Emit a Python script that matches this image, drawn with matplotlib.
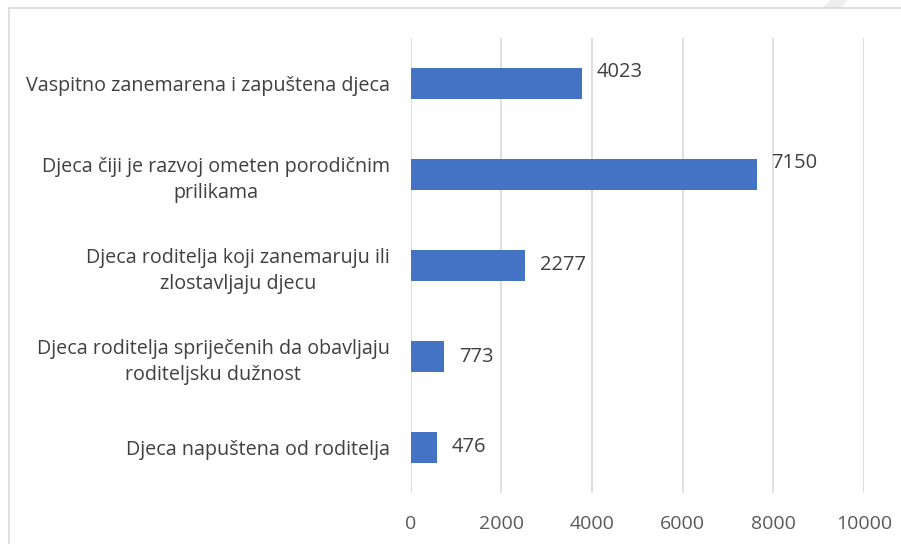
import matplotlib.pyplot as plt
from matplotlib.lines import Line2D
from matplotlib.patches import Polygon

# Data (bar lengths against the axis, printed labels as shown)
categories = [
    "Vaspitno zanemarena i zapuštena djeca",
    "Djeca čiji je razvoj ometen porodičnim\nprilikama",
    "Djeca roditelja koji zanemaruju ili\nzlostavljaju djecu",
    "Djeca roditelja spriječenih da obavljaju\nroditeljsku dužnost",
    "Djeca napuštena od roditelja",
]
bar_lengths = [3785, 7633, 2521, 742, 580]
value_labels = ["4023", "7150", "2277", "773", "476"]
label_raise = [8, 8, 0, 0, 0]  # points, first two labels sit higher

plt.rcParams['font.family'] = ['Open Sans', 'DejaVu Sans']

fig = plt.figure(figsize=(9.01, 5.44), dpi=100)
ax = fig.add_axes([410.7 / 901, 51 / 544, (864 - 410.7) / 901, 455 / 544])

ypos = list(range(len(categories)))
ax.barh(ypos, bar_lengths, height=0.35, color='#4472C4', zorder=3)

for y, w, txt, dy in zip(ypos, bar_lengths, value_labels, label_raise):
    ax.annotate(txt, (w, y), xytext=(10.5, dy), textcoords='offset points',
                ha='left', va='center', fontsize=14.5, color='#404040')

ax.set_xlim(0, 10000)
ax.set_ylim(len(categories) - 0.5, -0.5)
ax.set_xticks(range(0, 10001, 2000))
ax.set_yticks(ypos)
ax.set_yticklabels(categories, ha='right', multialignment='center',
                   fontsize=14.2, color='#404040', linespacing=1.4)
ax.tick_params(axis='y', length=0, pad=15)
ax.tick_params(axis='x', length=0, pad=16, labelsize=14, labelcolor='#595959')
ax.grid(axis='x', color='#d9d9d9', linewidth=1.2, zorder=0)
for s in ax.spines.values():
    s.set_visible(False)

# chart frame (top and left edges visible in the crop)
fig.add_artist(Line2D([9 / 901, 1], [1 - 8 / 544] * 2, color='#d9d9d9', lw=1.2,
                      transform=fig.transFigure))
fig.add_artist(Line2D([9 / 901] * 2, [0, 1 - 8 / 544], color='#d9d9d9', lw=1.2,
                      transform=fig.transFigure))
fig.add_artist(Polygon([[823 / 901, 1 - 8 / 544], [832 / 901, 1], [847 / 901, 1],
                        [841 / 901, 1 - 8 / 544]], closed=True, color='#eeeeee',
                       transform=fig.transFigure))

fig.savefig('out.png', dpi=100)
